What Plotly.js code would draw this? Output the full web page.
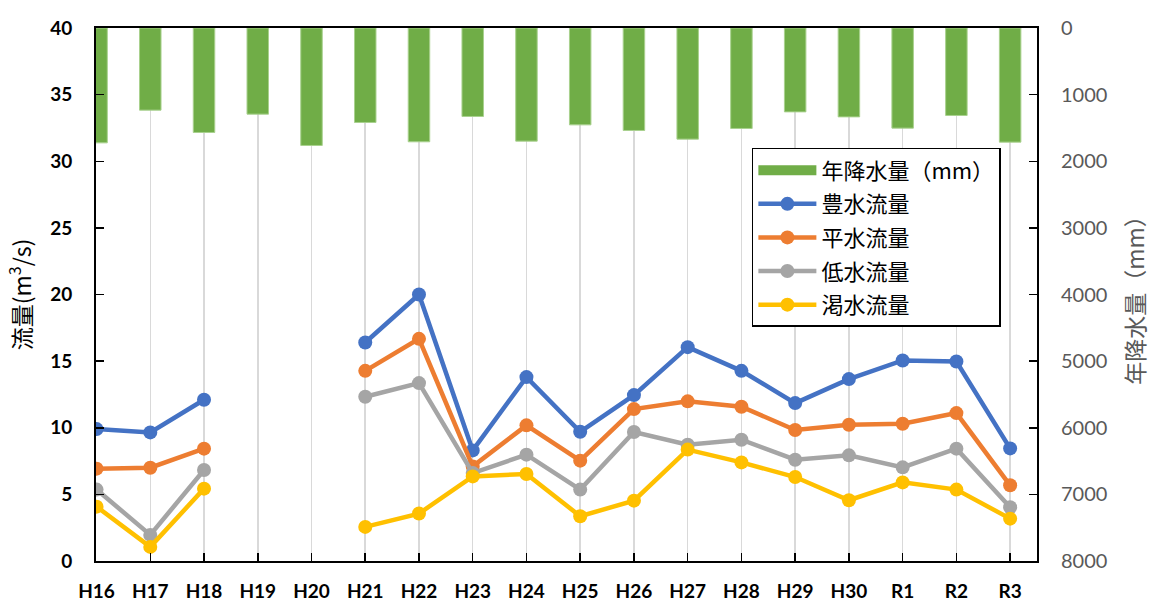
<!DOCTYPE html>
<html><head><meta charset="utf-8">
<script src="https://cdn.plot.ly/plotly-3.0.1.min.js"></script>
<style>body{margin:0;background:#fff}#c{width:1151px;height:601px}</style>
</head><body><div id="c"></div>
<script>
const years = ['H16','H17','H18','H19','H20','H21','H22','H23','H24','H25','H26','H27','H28','H29','H30','R1','R2','R3'];
const rainfall = [1724,1233,1568,1293,1763,1418,1708,1328,1698,1454,1538,1668,1508,1259,1334,1503,1313,1713];
const flowHigh = [9.9,9.65,12.1,null,null,16.4,20.0,8.3,13.8,9.7,12.45,16.05,14.27,11.85,13.65,15.05,14.97,8.45];
const flowNormal = [6.93,7.0,8.43,null,null,14.27,16.67,7.1,10.18,7.53,11.4,11.98,11.58,9.83,10.23,10.3,11.1,5.68];
const flowLow = [5.36,1.96,6.83,null,null,12.33,13.35,6.6,7.98,5.36,9.68,8.73,9.1,7.6,7.93,7.03,8.43,4.03];
const flowDrought = [4.08,1.06,5.43,null,null,2.56,3.56,6.35,6.53,3.36,4.53,8.36,7.4,6.3,4.56,5.9,5.36,3.18];
const names = ['年降水量（mm）','豊水流量','平水流量','低水流量','渇水流量'];
const colors = ['#70ad47','#4472c4','#ed7d31','#a5a5a5','#ffc000'];

const cjk = 'Noto Sans CJK JP, sans-serif';
const tickFont = {family:'Lato, Liberation Sans, sans-serif', size:19, color:'#000', weight:'bold'};
const tickFont2 = {family:'Lato, Liberation Sans, sans-serif', size:20, color:'#595959'};

function lineTrace(y, i){
  return {type:'scatter', mode:'lines+markers', x:years, y:y, name:names[i],
    legendgroup:'g'+i, connectgaps:false,
    line:{color:colors[i], width:4.5}, marker:{color:colors[i], size:14}};
}
const data = [
  {type:'bar', x:years, y:rainfall, name:names[0], legendgroup:'g0', showlegend:false, yaxis:'y2',
   marker:{color:colors[0], line:{color:'#a9d18e', width:1}}, width:0.4},
  // legend entry for the bars (wide swatch)
  {type:'scatter', mode:'lines', x:[null], y:[null], name:names[0], legendgroup:'g0', yaxis:'y2',
   line:{color:colors[0], width:13}, hoverinfo:'skip'},
  lineTrace(flowHigh,1), lineTrace(flowNormal,2), lineTrace(flowLow,3), lineTrace(flowDrought,4)
];
const layout = {
  width:1151, height:601,
  margin:{l:96, r:114, t:28, b:40},
  paper_bgcolor:'#fff', plot_bgcolor:'#fff',
  showlegend:true,
  legend:{x:0.697, y:0.775, xanchor:'left', yanchor:'top', bgcolor:'#fff', bordercolor:'#000', borderwidth:1.5,
    font:{family:cjk, size:22, color:'#000'}, traceorder:'grouped', tracegroupgap:2, itemwidth:58},
  xaxis:{type:'category', range:[-0.01,17.5], showgrid:true, gridcolor:'#d9d9d9', gridwidth:1.5,
    showline:true, linecolor:'#000', linewidth:2, mirror:true, ticks:'inside', ticklen:8, tickcolor:'#000', tickwidth:1.5,
    tickfont:tickFont, ticklabelstandoff:12, zeroline:false},
  yaxis:{range:[0,40], dtick:5, showgrid:false, zeroline:false, showline:true, linecolor:'#000', linewidth:2,
    ticks:'inside', ticklen:8, tickcolor:'#000', tickwidth:1.5, tickfont:tickFont, ticklabelstandoff:18,
    title:{text:'流量(m<sup>3</sup>/s)', font:{family:cjk, size:23, color:'#000'}, standoff:12}},
  yaxis2:{overlaying:'y', side:'right', range:[8000,0], dtick:1000, showgrid:false, zeroline:false,
    showline:true, linecolor:'#000', linewidth:2, ticks:'inside', ticklen:8, tickcolor:'#000', tickwidth:1.5,
    tickfont:tickFont2, ticklabelstandoff:18,
    title:{text:'年降水量（mm）', font:{family:cjk, size:23, color:'#595959'}, standoff:28}},
  bargap:0.6
};
Plotly.newPlot('c', data, layout, {displayModeBar:false, staticPlot:true});
</script></body></html>
